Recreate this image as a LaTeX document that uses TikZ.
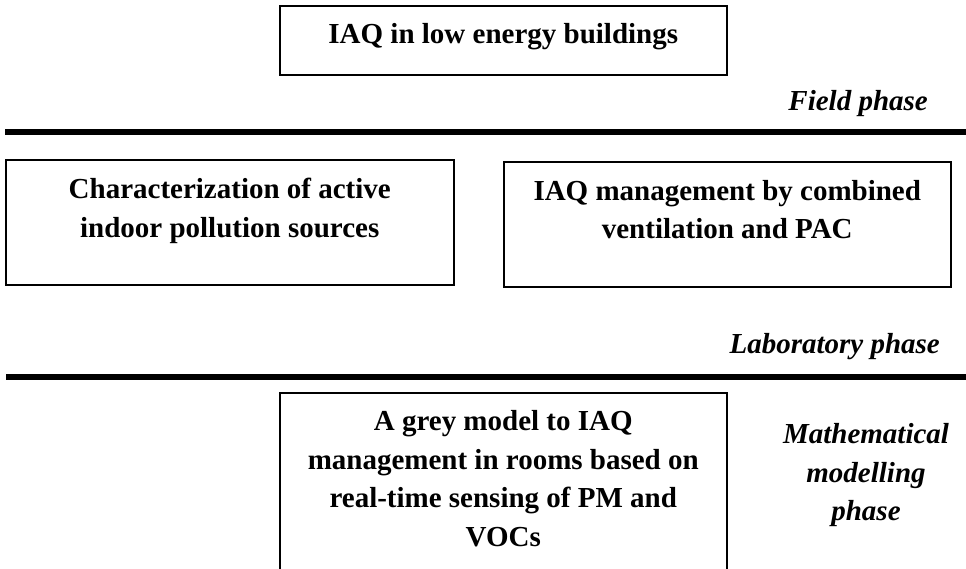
\documentclass[tikz,border=0pt]{standalone}
\usepackage{fontspec}
\setmainfont{Liberation Serif}
\usetikzlibrary{positioning}
\tikzset{
  box/.style={draw, line width=1.5pt, inner sep=0pt, anchor=north west},
  txt/.style={font=\bfseries\fontsize{29}{38.5}\selectfont, align=center, inner sep=0pt, anchor=north},
  phase/.style={font=\bfseries\itshape\fontsize{29}{38.5}\selectfont, align=center, inner sep=0pt},
  rule/.style={line width=6pt}
}
\begin{document}
\begin{tikzpicture}[x=1pt,y=-1pt]
  \clip (0,0) rectangle (966,568);
  \node[box, minimum width=447pt, minimum height=69pt] (top) at (279,5) {};
  \node[box, minimum width=448pt, minimum height=125pt] (src) at (5,159) {};
  \node[box, minimum width=447pt, minimum height=125pt] (mgmt) at (503,161) {};
  \node[box, minimum width=447pt, minimum height=200pt] (grey) at (279,392) {};
  \node[txt] (toptext) at ([yshift=-18pt]top.north) {IAQ in low energy buildings};
  \node[txt] (srctext) at ([yshift=-19pt]src.north) {Characterization of active\\indoor pollution sources};
  \node[txt] (mgmttext) at ([yshift=-19pt]mgmt.north) {IAQ management by combined\\ventilation and PAC};
  \node[txt] (greytext) at ([yshift=-18.5pt]grey.north) {A grey model to IAQ\\management in rooms based on\\real-time sensing of PM and\\VOCs};
  \node[phase, anchor=base east] (field) at (928,110) {Field phase};
  \node[phase, anchor=base east] (lab) at (940,353) {Laboratory phase};
  \node[phase, anchor=north] (math) at (866,423.5) {Mathematical\\modelling\\phase};
  \draw[rule] (5,132) -- (966,132);
  \draw[rule] (6,377) -- (966,377);
\end{tikzpicture}
\end{document}
